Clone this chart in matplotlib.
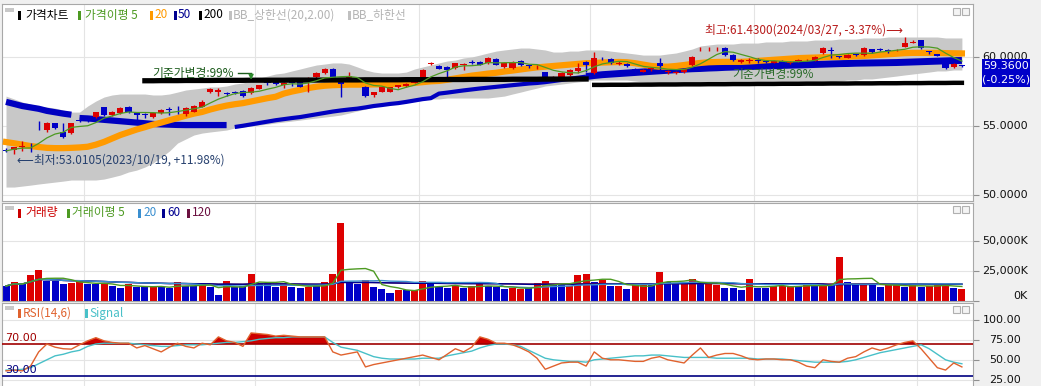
import matplotlib
matplotlib.use("Agg")
import matplotlib.pyplot as plt
import numpy as np
import pandas as pd
from matplotlib.patches import Rectangle
from matplotlib.transforms import blended_transform_factory as blend

plt.rcParams['font.family'] = ['Noto Sans CJK KR', 'DejaVu Sans']

# ---- 일봉 데이터 ----
opens = [53.25, 53.25, 53.50, 53.50, 55.10, 54.70, 55.20, 54.55, 54.50, 55.45,
         55.50, 55.65, 56.35, 55.80, 55.95, 56.35, 56.00, 55.90, 55.65, 55.95,
         56.20, 56.25, 55.85, 56.05, 56.40, 57.50, 57.45, 57.40, 57.45, 57.55,
         57.40, 57.70, 58.15, 58.30, 57.95, 58.15, 58.20, 58.30, 58.55, 58.85,
         59.13, 58.20, 58.50, 58.50, 57.85, 57.25, 57.50, 57.50, 57.85, 57.90,
         58.15, 58.50, 59.50, 59.35, 59.30, 59.20, 59.40, 59.65, 59.65, 59.57,
         59.85, 59.28, 59.20, 59.70, 59.37, 59.25, 58.90, 58.50, 58.55, 58.70,
         59.00, 59.64, 58.84, 59.95, 59.85, 59.50, 59.50, 59.10, 58.95, 59.10,
         59.60, 58.90, 58.85, 58.90, 59.42, 60.55, 60.55, 60.55, 60.65, 60.15,
         59.65, 59.70, 59.80, 59.70, 59.60, 59.70, 59.55, 59.70, 59.75, 59.72,
         60.30, 60.50, 60.05, 59.95, 60.20, 60.15, 60.58, 60.55, 60.50, 60.48,
         60.72, 61.05, 61.20, 60.40, 60.20, 59.78, 59.28, 59.40]
highs = [53.40, 53.50, 53.90, 53.80, 55.40, 55.30, 55.25, 55.20, 55.25, 55.65,
         55.60, 56.05, 56.40, 56.10, 56.40, 56.45, 56.05, 55.95, 56.00, 56.25,
         56.40, 56.45, 56.35, 56.50, 56.85, 57.75, 57.75, 57.50, 57.55, 57.60,
         57.80, 58.00, 58.30, 58.35, 58.20, 58.25, 58.25, 58.55, 58.90, 59.20,
         59.20, 58.30, 58.90, 58.55, 57.90, 57.50, 57.85, 57.85, 58.00, 58.15,
         58.30, 59.10, 59.65, 59.45, 59.35, 59.60, 59.60, 59.80, 59.70, 60.00,
         59.90, 59.65, 59.70, 59.75, 59.45, 59.40, 58.95, 58.65, 58.90, 59.10,
         59.57, 59.70, 60.36, 60.00, 59.90, 59.70, 59.55, 59.20, 59.15, 59.30,
         59.93, 59.05, 59.00, 59.20, 60.05, 60.70, 60.70, 60.70, 60.70, 60.20,
         59.85, 59.90, 59.90, 59.80, 59.75, 59.75, 59.70, 59.85, 59.85, 60.05,
         60.70, 60.70, 60.10, 60.20, 60.25, 60.70, 60.60, 60.65, 60.60, 60.60,
         61.43, 61.20, 61.25, 60.45, 60.25, 59.80, 59.55, 59.45]
lows = [53.10, 53.0105, 53.20, 53.10, 54.70, 54.60, 54.80, 54.10, 54.45, 55.30,
        55.30, 55.60, 55.75, 55.75, 55.90, 55.95, 55.45, 55.55, 55.60, 55.90,
        55.80, 55.90, 55.75, 56.00, 56.35, 57.40, 57.20, 57.20, 57.30, 57.10,
        57.30, 57.65, 58.00, 58.00, 57.75, 57.90, 57.80, 57.45, 58.50, 58.80,
        58.30, 57.10, 58.30, 58.30, 57.10, 57.10, 57.45, 57.45, 57.75, 57.85,
        58.10, 58.45, 59.45, 59.10, 58.55, 59.15, 59.05, 59.50, 59.40, 59.50,
        59.40, 59.20, 59.15, 59.35, 59.20, 59.15, 58.50, 58.40, 58.50, 58.65,
        58.85, 58.90, 58.80, 59.80, 59.50, 59.45, 59.25, 58.90, 58.90, 59.00,
        58.90, 58.80, 58.75, 58.85, 59.35, 60.45, 60.40, 60.45, 60.10, 59.70,
        59.60, 59.60, 59.60, 59.60, 59.55, 59.50, 59.50, 59.65, 59.70, 59.68,
        60.25, 59.95, 59.90, 59.90, 60.05, 60.10, 60.30, 60.40, 60.30, 60.40,
        60.70, 61.00, 60.60, 60.25, 60.05, 59.15, 59.20, 59.30]
closes = [53.20, 53.45, 53.55, 53.45, 55.05, 55.20, 54.85, 54.20, 55.20, 55.40,
          55.45, 56.00, 55.80, 56.00, 56.30, 56.00, 55.80, 55.80, 55.95, 56.15,
          56.15, 56.20, 56.30, 56.45, 56.75, 57.65, 57.60, 57.35, 57.40, 57.15,
          57.75, 57.95, 58.10, 58.05, 58.10, 58.10, 57.85, 58.50, 58.85, 59.12,
          58.35, 58.05, 58.60, 58.45, 57.15, 57.45, 57.80, 57.80, 57.95, 58.05,
          58.20, 59.05, 59.55, 59.15, 59.05, 59.55, 59.50, 59.60, 59.42, 59.93,
          59.42, 59.57, 59.64, 59.42, 59.33, 59.30, 58.55, 58.58, 58.85, 59.05,
          59.20, 59.42, 59.93, 59.90, 59.57, 59.60, 59.35, 59.05, 59.05, 59.20,
          59.35, 58.95, 58.90, 59.10, 60.00, 60.60, 60.60, 60.60, 60.15, 59.78,
          59.78, 59.80, 59.70, 59.65, 59.70, 59.60, 59.60, 59.78, 59.80, 60.00,
          60.65, 60.45, 60.00, 60.15, 60.15, 60.65, 60.36, 60.50, 60.42, 60.52,
          61.00, 61.10, 60.65, 60.35, 60.10, 59.20, 59.51, 59.36]

# 이동평균 / 볼린저밴드 (차트에서 읽은 값, 기준가변경으로 끊김 있음)
ma20 = [53.84, 53.75, 53.65, 53.55, 53.48, 53.42, 53.40, 53.40, 53.42, 53.45,
        53.50, 53.65, 53.85, 54.10, 54.35, 54.55, 54.75, 54.92, 55.10, 55.25,
        55.42, 55.58, 55.75, 55.90, 56.02, 56.20, 56.35, 56.48, 56.58, 56.66,
        56.78, 56.90, 57.02, 57.12, 57.35, 57.50, 57.62, 57.75, 57.85, 57.92,
        57.96, 57.98, 58.00, 58.00, 58.00, 58.02, 58.02, 58.04, 58.04, 58.08,
        58.12, 58.18, 58.24, 58.27, 58.35, 58.45, 58.55, 58.65, 58.72, 58.80,
        58.86, 58.95, 59.02, 59.10, 59.18, 59.25, 59.30, 59.35, 59.40, 59.45,
        59.50, 59.55, 59.57, 59.60, 59.62, 59.64, 59.62, 59.55, 59.45, 59.35,
        59.30, 59.30, 59.35, 59.42, 59.50, 59.57, 59.62, 59.64, 59.65, 59.65,
        59.65, 59.68, 59.72, 59.76, 59.80, 59.84, 59.88, 59.92, 59.94, 59.96,
        59.98, 60.00, 60.00, 60.02, 60.05, 60.08, 60.12, 60.16, 60.20, 60.24,
        60.28, 60.30, 60.30, 60.30, 60.30, 60.28, 60.27, 60.26]
ma50 = [56.75, 56.60, 56.45, 56.35, 56.25, 56.10, 56.00, 55.90, 55.82,
        55.58, 55.55, 55.50, 55.45, 55.40, 55.35, 55.30, 55.25, 55.20, 55.15,
        55.12, 55.10, 55.08, 55.07, 55.07, 55.07, 55.07, 55.07, 55.07,
        54.93, 55.02, 55.12, 55.22, 55.32, 55.42, 55.50, 55.58, 55.65, 55.75,
        55.85, 55.95, 56.05, 56.13, 56.20, 56.26, 56.35, 56.45, 56.52, 56.60,
        56.66, 56.75, 56.85, 56.95, 57.02, 57.35, 57.42, 57.50, 57.58, 57.65,
        57.72, 57.78, 57.84, 57.90, 57.96, 58.02, 58.08, 58.12, 58.18, 58.26,
        58.34, 58.42, 58.50, 58.58, 58.66, 58.72, 58.76, 58.80, 58.84, 58.88,
        58.92, 58.96, 59.00, 59.04, 59.08, 59.12, 59.15, 59.17, 59.20, 59.22,
        59.25, 59.27, 59.29, 59.31, 59.33, 59.35, 59.37, 59.39, 59.41, 59.42,
        59.44, 59.46, 59.48, 59.50, 59.52, 59.53, 59.55, 59.56, 59.57, 59.58,
        59.59, 59.60, 59.62, 59.64, 59.66, 59.68, 59.70, 59.72, 59.74, 59.75]
nan = np.nan
ma200 = [nan] * 17 + [
        58.28, 58.28, 58.29, 58.29, 58.29, 58.30, 58.30, 58.30, 58.30, 58.31,
        58.31, 58.31, 58.31, 58.32, 58.32, 58.32, 58.32, 58.32, 58.33, 58.33,
        58.33, 58.33, 58.33, 58.34, 58.34, 58.34, 58.34, 58.35, 58.35, 58.35,
        58.35, 58.35, 58.36, 58.36, 58.36, 58.36, 58.37, 58.37, 58.37, 58.37,
        58.38, 58.38, 58.38, 58.38, 58.38, 58.39, 58.39, 58.39, 58.39, 58.40,
        58.40, 58.40, 58.40, 58.41, 58.41,
        57.98, 57.98, 57.99, 57.99, 57.99, 58.00, 58.00, 58.00, 58.01, 58.01,
        58.01, 58.02, 58.02, 58.02, 58.03, 58.03, 58.03, 58.04, 58.04, 58.04,
        58.05, 58.05, 58.05, 58.06, 58.06, 58.06, 58.07, 58.07, 58.07, 58.08,
        58.08, 58.08, 58.09, 58.09, 58.09, 58.10, 58.10, 58.10, 58.11, 58.11,
        58.11, 58.12, 58.12, 58.12, 58.13, 58.13]
bb_upper = [57.17, 56.96, 56.74, 56.59, 56.45, 56.38, 56.30, 56.16, 56.01, 56.01,
            56.45, 56.81, 57.10, 57.25, 57.32, 57.32, 57.32, 57.32, 57.25, 57.25,
            57.32, 57.46, 57.61, 57.68, 57.75, 57.83, 57.83, 57.90, 58.04, 58.12,
            58.26, 58.48, 58.62, 58.77, 58.84, 58.99, 59.13, 59.28, 59.42, 59.49,
            59.57, 59.57, 59.49, 59.28, 59.06, 58.91, 58.84, 58.84, 58.84, 58.91,
            59.13, 59.28, 59.42, 59.57, 59.71, 59.78, 59.93, 60.00, 60.14, 60.29,
            60.43, 60.51, 60.58, 60.65, 60.65, 60.58, 60.51, 60.36, 60.36, 60.43,
            60.43, 60.51, 60.51, 60.51, 60.43, 60.36, 60.29, 60.22, 60.14, 60.14,
            60.14, 60.22, 60.29, 60.43, 60.58, 60.80, 60.87, 60.94, 60.94, 60.94,
            61.01, 61.01, 61.01, 61.09, 61.09, 61.09, 61.16, 61.16, 61.16, 61.23,
            61.23, 61.23, 61.30, 61.30, 61.30, 61.38, 61.38, 61.38, 61.45, 61.45,
            61.45, 61.45, 61.45, 61.45, 61.45, 61.38, 61.38, 61.38]
bb_lower = [50.58, 50.58, 50.65, 50.72, 50.80, 50.87, 50.94, 51.01, 51.09, 51.09,
            51.09, 51.09, 51.16, 51.30, 51.45, 51.67, 51.81, 52.03, 52.32, 52.75,
            53.19, 53.77, 54.06, 54.35, 54.49, 54.57, 54.64, 54.71, 54.86, 54.93,
            55.00, 55.07, 55.14, 55.22, 55.29, 55.36, 55.43, 55.51, 55.58, 55.65,
            55.72, 55.80, 55.94, 56.09, 56.23, 56.38, 56.52, 56.59, 56.67, 56.74,
            56.81, 56.88, 56.96, 56.96, 57.03, 57.03, 57.03, 57.03, 57.03, 57.03,
            57.10, 57.17, 57.32, 57.46, 57.61, 57.75, 57.90, 57.97, 58.04, 58.12,
            58.19, 58.26, 58.33, 58.33, 58.33, 58.33, 58.33, 58.26, 58.19, 58.12,
            58.04, 58.04, 58.04, 58.04, 58.04, 58.04, 58.04, 58.04, 58.04, 58.04,
            58.04, 58.04, 58.04, 58.04, 58.04, 58.12, 58.12, 58.12, 58.19, 58.19,
            58.19, 58.19, 58.26, 58.33, 58.33, 58.41, 58.41, 58.48, 58.55, 58.62,
            58.70, 58.77, 58.84, 58.91, 58.99, 58.99, 59.06, 59.06]

# 거래량 (K주)
volume = [12500, 16100, 13900, 21700, 25800, 16700, 16700, 13900, 15300, 16700,
          13900, 13900, 13900, 12500, 10600, 13900, 11700, 11700, 11700, 11700,
          10600, 16100, 12500, 12500, 13900, 11700, 5000, 16700, 11700, 12500,
          22800, 15300, 15300, 11700, 15300, 11700, 11100, 11700, 12500, 16100,
          22800, 65300, 15300, 14400, 17500, 11700, 9700, 6900, 8900, 8900,
          8900, 16700, 13900, 11700, 10600, 12500, 11100, 12500, 13900, 12500,
          11700, 9700, 10600, 9700, 11700, 15000, 16700, 13900, 13900, 12500,
          21700, 22800, 16100, 17500, 12500, 12500, 9700, 13300, 13300, 13300,
          24400, 16100, 13900, 15300, 18100, 14400, 13900, 13300, 10600, 10600,
          8900, 18100, 11100, 10600, 12500, 12500, 12500, 12500, 13300, 13300,
          12500, 13300, 36700, 16100, 13900, 13900, 13900, 11700, 13300, 13300,
          11700, 13300, 11700, 12500, 13300, 14400, 10600, 9700]
volume_color = ("BRBRRBBBRR" "BBRBBRBBRB" "BRBBRBBRBB" "RBBBRBBRBR"
                "RRBBRBBBRB" "RRBBBRBRRB" "BBRRBRRBBR" "RRBRBRBRRB"
                "RBBRRBRRBB" "BRBBRRRBRB" "RBRBBRBBRR" "BRBRRRBR")

# RSI(14,6) / Signal
rsi = [36, 37, 36, 42, 60, 70, 66, 64, 63.5, 69,
       74, 78, 74, 72, 71, 71, 65, 68, 64, 60,
       66, 71, 67, 65, 71, 69, 79, 74, 72, 67,
       84, 83, 82, 80, 81, 80, 79, 79, 79, 79,
       60, 56, 58, 60, 41, 44, 46, 48, 50, 52,
       54, 56, 53, 50, 57, 64, 60, 66, 79, 76,
       71, 71, 69, 65, 60, 52, 38, 42, 46, 47,
       47, 42, 60, 52, 50, 50, 49, 48, 48, 52,
       54, 50, 48, 46, 56, 65, 53, 56, 58, 58,
       55, 51, 50, 51, 51, 50, 50, 47, 42, 40,
       50, 48, 47, 52, 54, 60, 65, 62, 65, 69,
       72, 74, 64, 52, 40, 37, 46, 41]
signal = [37, 37, 38, 40, 45, 50, 55, 57, 60, 62,
          67, 70, 71, 71, 71, 71, 70, 69, 68, 67,
          67, 68, 69, 69, 69, 70, 71, 72, 72, 73,
          74, 76, 77, 78, 78, 79, 79, 79, 79, 79,
          72, 66, 64, 62, 58, 54, 52, 51, 51, 51,
          51, 52, 52, 52, 55, 57, 59, 61, 65, 68,
          70, 70, 69, 67, 62, 57, 52, 50, 49, 48,
          48, 47, 50, 51, 52, 53, 54, 55, 55, 56,
          56, 55, 54, 53, 53, 53, 53, 52, 52, 52,
          52, 52, 51, 51, 51, 51, 50, 49, 48, 47,
          47, 47, 47, 48, 50, 53, 56, 59, 61, 63,
          65, 67, 69, 64, 57, 50, 47, 45]

month_start = [10, 31, 51, 72, 92, 112]   # 11월~4월 첫 거래일
hi_date, lo_date = '2024/03/27', '2023/10/19'
adjust_idx = [30, 96]                     # 기준가변경

for arr in (opens, highs, lows, closes, ma20, ma50, ma200, bb_upper, bb_lower,
            volume, rsi, signal):
    assert len(arr) == len(closes), len(arr)
assert len(volume_color) == len(closes)

# ---- 그리기 ----
W, H = 1041, 386
RED, BLUE = '#dd0000', '#0000c8'
n = len(closes)
x = np.arange(n)
o, h, l, c = map(np.array, (opens, highs, lows, closes))

fig = plt.figure(figsize=(W / 100, H / 100), dpi=100, facecolor='#f0f0f0')


def panel(top, bottom, yticks, ylim):
    ax = fig.add_axes([2 / W, 1 - bottom / H, (973 - 2) / W, (bottom - top) / H])
    ax.set_facecolor('white')
    ax.set_xlim(-0.49, 118.36)
    ax.set_ylim(*ylim)
    for s in ax.spines.values():
        s.set_color('#a8a8a8')
    ax.set_xticks([m - 0.5 for m in month_start])
    ax.tick_params(axis='x', length=0, labelbottom=False)
    ax.yaxis.tick_right()
    ax.set_yticks(yticks)
    ax.tick_params(axis='y', length=4, color='#909090', labelright=False)
    ax.grid(True, color='#e4e4e4', lw=0.8)
    ax.set_axisbelow(True)
    return ax


def fig_rect(x0, y0, x1, y1, face, edge='none', lw=0, z=10):
    fig.patches.append(Rectangle((x0 / W, 1 - y1 / H), (x1 - x0) / W, (y1 - y0) / H,
                                 transform=fig.transFigure, facecolor=face,
                                 edgecolor=edge, lw=lw, zorder=z))


def legend(y, items):
    fig_rect(5, y - 7, 14, y - 3, '#c8c8c8')
    fig_rect(953, y - 7, 960, y, '#f4f4f4', '#b0b0b0', 0.8)
    fig_rect(962, y - 7, 969, y, '#f4f4f4', '#b0b0b0', 0.8)
    for mx, tx, label, mcol, tcol in items:
        fig_rect(mx, y - 4.5, mx + 3, y + 4.5, mcol)
        fig.text(tx / W, 1 - y / H, label, color=tcol, fontsize=8.5,
                 va='center', ha='left')


def right_labels(ax, vals, texts, xr):
    tr = blend(fig.transFigure, ax.transData)
    for v, t in zip(vals, texts):
        va = 'bottom' if v == 0 else 'center'
        fig.text(xr / W, v, t, transform=tr, ha='right', va=va, fontsize=8,
                 family='DejaVu Sans', color='#111111')


# 가격 패널
ax_p = panel(4, 201, [50, 55, 60], (49.57, 63.84))
ax_p.fill_between(x, bb_lower, bb_upper, color='#c8c8c8', lw=0, zorder=1)
m50 = np.array(ma50)
ax_p.plot(x[:9], m50[:9], color='#0000c0', lw=4.5, solid_capstyle='butt', zorder=2)
ax_p.plot(x[9:28], m50[9:28], color='#0000c0', lw=4.5, solid_capstyle='butt', zorder=2)
ax_p.plot(x[28:72], m50[28:72], color='#0000c0', lw=3, solid_capstyle='butt', zorder=2)
ax_p.plot(x[71:], m50[71:], color='#0000c0', lw=5, solid_capstyle='butt', zorder=2)
ax_p.plot(x, ma20, color='#ff9a00', lw=4.5, zorder=3)

up = c >= o
col = np.where(up, RED, BLUE)
ax_p.vlines(x, l, h, colors=col, lw=1, zorder=4)
ax_p.bar(x, np.maximum(np.abs(c - o), 0.06), bottom=np.minimum(o, c), width=0.75,
         color=col, lw=0, zorder=4)

m200 = np.array(ma200)
ax_p.plot(x[:72], m200[:72], color='black', lw=3.8, zorder=5)
ax_p.plot(x[72:], m200[72:], color='black', lw=3.2, zorder=5)
ma5 = pd.Series(c).rolling(5, min_periods=1).mean()
ax_p.plot(x, ma5, color='#4d9a22', lw=0.9, zorder=6)

hi_i, lo_i = int(np.argmax(h)), int(np.argmin(l))
last = c[-1]
ax_p.text(hi_i - 0.2, h[hi_i] + 0.55,
          f'최고:{h[hi_i]:.4f}({hi_date}, {(last / h[hi_i] - 1) * 100:.2f}%)⟶',
          color='#b81c1c', fontsize=8.5, ha='right', va='center', zorder=7)
ax_p.text(lo_i + 0.3, l[lo_i] - 0.47,
          f'⟵최저:{l[lo_i]:.4f}({lo_date}, +{(last / l[lo_i] - 1) * 100:.2f}%)',
          color='#26406e', fontsize=8.5, ha='left', va='center', zorder=7)
GREEN_T = '#1d5c1d'
a0 = adjust_idx[0]
ax_p.text(a0 - 12.1, 58.84, '기준가변경:99%', color=GREEN_T, fontsize=8.5,
          ha='left', va='center', zorder=7)
ax_p.plot([a0 - 1.6, a0], [58.84, 58.84], color=GREEN_T, lw=1, zorder=7)
ax_p.annotate('', xy=(a0, 58.15), xytext=(a0, 58.86),
              arrowprops=dict(arrowstyle='-|>', color='#2e8b2e', lw=1,
                              mutation_scale=7), zorder=7)
ax_p.text(adjust_idx[1] - 7.1, 58.70, '기준가변경:99%', color='#2a6a2a', fontsize=8.5,
          ha='left', va='center', zorder=4.5)

legend(15, [(18, 25, '가격차트', 'black', 'black'),
            (78, 85, '가격이평 5', '#4d9a22', '#4d9a22'),
            (150, 154, '20', '#ff9a00', '#ff9a00'),
            (174, 178, '50', '#000090', '#000090'),
            (199, 203, '200', 'black', 'black'),
            (229, 233, 'BB_상한선(20,2.00)', '#c0c0c0', '#b4b4b4'),
            (348, 352, 'BB_하한선', '#c0c0c0', '#b4b4b4')])
right_labels(ax_p, [60, 55, 50], ['60.0000', '55.0000', '50.0000'], 1028)
trp = blend(fig.transFigure, ax_p.transData)
fig.patches.append(Rectangle((982 / W, last - 1.52), 48 / W, 2.03, transform=trp,
                             facecolor=BLUE, edgecolor='none', zorder=12))
fig.text(1006 / W, last, f'{last:.4f}', transform=trp, color='white', fontsize=8,
         family='DejaVu Sans', ha='center', va='center', zorder=13)
fig.text(1006 / W, last - 1.01, f'({(last / c[-2] - 1) * 100:.2f}%)', transform=trp,
         color='white', fontsize=8, family='DejaVu Sans', ha='center', va='center',
         zorder=13)

# 거래량 패널
ax_v = panel(203, 301, [0, 25000, 50000], (0, 81667))
vcol = [RED if k == 'R' else BLUE for k in volume_color]
ax_v.bar(x, volume, width=0.86, color=vcol, lw=0, zorder=2)
vs = pd.Series(volume, dtype=float)
for win, colr in [(120, '#6b1040'), (60, '#000090'), (20, '#3a8fd0'), (5, '#4d9a22')]:
    ax_v.plot(x, vs.rolling(win, min_periods=1).mean(), color=colr, lw=1, zorder=3)
legend(213, [(18, 25, '거래량', '#cc0000', '#cc0000'),
             (67, 72, '거래이평 5', '#4d9a22', '#4d9a22'),
             (138, 143, '20', '#3a8fd0', '#3a8fd0'),
             (162, 167, '60', '#000090', '#000090'),
             (187, 192, '120', '#6b1040', '#6b1040')])
right_labels(ax_v, [50000, 25000, 0], ['50,000K', '25,000K', '0K'], 1028)

# RSI 패널
ax_r = panel(303, 386, [25, 50, 75, 100], (16.84, 121.9))
ax_r.spines['bottom'].set_visible(False)
r = np.array(rsi, dtype=float)
ax_r.fill_between(x, 70, r, where=r >= 70, interpolate=True, color='#cc0000',
                  lw=0, zorder=2)
ax_r.axhline(70, color='#a00000', lw=1.2, zorder=3)
ax_r.axhline(30, color='#000080', lw=1.2, zorder=3)
ax_r.plot(x, signal, color='#48c0c8', lw=1, zorder=4)
ax_r.plot(x, r, color='#e0622e', lw=1, zorder=4)
trr = blend(ax_r.transAxes, ax_r.transData)
ax_r.text(0.003, 70.8, '70.00', transform=trr, color='#a00000', fontsize=8,
          family='DejaVu Sans', va='bottom', ha='left', zorder=5)
ax_r.text(0.003, 30.8, '30.00', transform=trr, color='#000080', fontsize=8,
          family='DejaVu Sans', va='bottom', ha='left', zorder=5)
legend(313, [(18, 23, 'RSI(14,6)', '#e0622e', '#e0622e'),
             (85, 89, 'Signal', '#48c0c8', '#48c0c8')])
right_labels(ax_r, [100, 75, 50, 25], ['100.00', '75.00', '50.00', '25.00'], 1021)

fig.savefig('out.png', dpi=100, facecolor=fig.get_facecolor())
